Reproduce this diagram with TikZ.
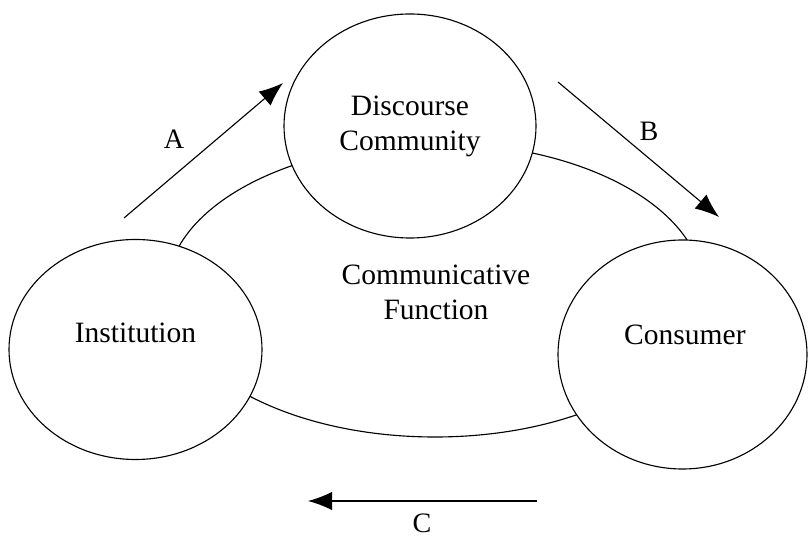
\documentclass[tikz,border=0pt]{standalone}
\usepackage{fontspec}
\setmainfont{Liberation Serif}
\usetikzlibrary{shapes.geometric,arrows.meta}

\tikzset{
  blob/.style={draw, ellipse, fill=white, line width=0.8pt, inner sep=0pt},
  word/.style={align=center, font=\fontsize{21}{25}\selectfont},
  tag/.style={font=\fontsize{20}{24}\selectfont, inner sep=1pt},
}

\begin{document}
\begin{tikzpicture}[>={Latex[length=6mm,width=4.6mm]}, line width=0.8pt]
\useasboundingbox (0,0) rectangle (20.2,13.425);

% the function ring behind the three parties
\node[blob, minimum width=13.4cm, minimum height=7.35cm] (func) at (10.875, 6.175) {};
\node[word] (funcText) at (10.9, 6.125) {Communicative\\Function};

\node[blob, minimum width=6.3cm, minimum height=5.6cm] (disc) at (10.25, 10.275) {};
\node[blob, minimum width=6.325cm, minimum height=5.5cm] (inst) at (3.3875, 4.6875) {};
\node[blob, minimum width=6.225cm, minimum height=5.725cm] (cons) at (17.0625, 4.5625) {};

\node[word] (discText) at (disc) {Discourse\\Community};
\node[word] (instText) at ([yshift=0.41cm]inst.center) {Institution};
\node[word] (consText) at ([xshift=0.06cm, yshift=0.49cm]cons.center) {Consumer};

% free arrows
\coordinate (a0) at (3.1, 7.975);
\coordinate (a1) at (7.075, 11.35);
\coordinate (b0) at (13.95, 11.375);
\coordinate (b1) at (17.975, 8.0);
\coordinate (c0) at (13.425, 0.9);
\coordinate (c1) at (7.7, 0.9);

\draw[->] (a0) -- (a1);
\draw[->] (b0) -- (b1);
\draw[->] (c0) -- (c1);

\node[tag] (aText) at (4.35, 9.95) {A};
\node[tag] (bText) at (16.225, 10.15) {B};
\node[tag] (cText) at (10.55, 0.33) {C};

\end{tikzpicture}
\end{document}
